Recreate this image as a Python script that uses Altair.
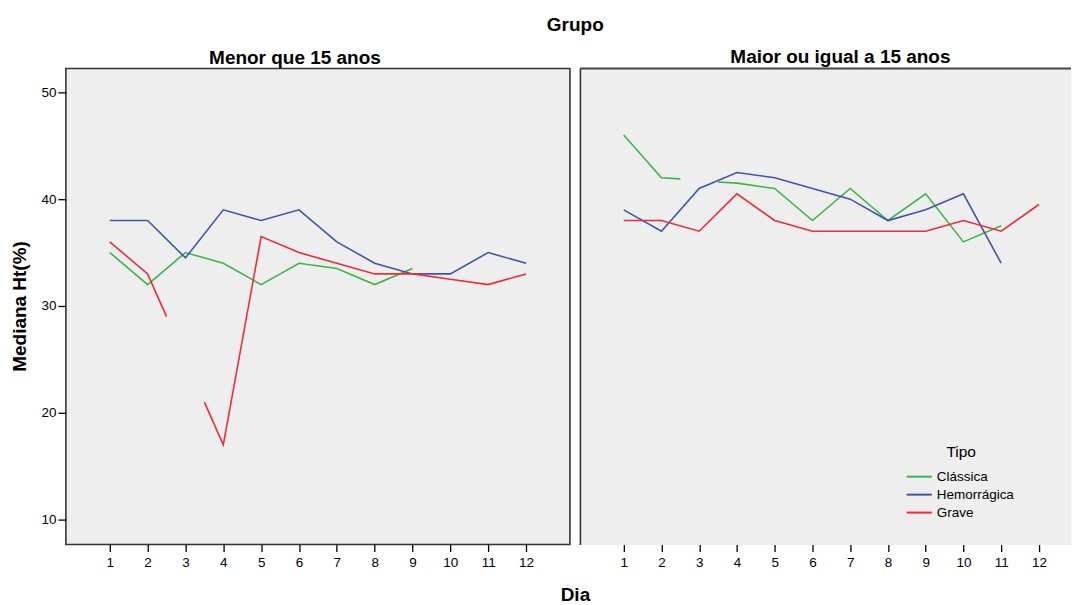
import altair as alt
import pandas as pd

FONTE = "Liberation Sans"

TIPOS = ["Clássica", "Hemorrágica", "Grave"]
CORES = ["#3bb54a", "#3d55ad", "#ee2b36"]

DIAS_TICKS = list(range(1, 13))
HT_TICKS = [10, 20, 30, 40, 50]

# Median Ht(%) per day. A None entry breaks the line into separate stretches.
# --- Menor que 15 anos
menor_classica_dia = [1, 2, 3, 4, 5, 6, 7, 8, 9]
menor_classica_ht = [35, 32, 35, 34, 32, 34, 33.5, 32, 33.5]

menor_hemorragica_dia = [1, 2, 3, 4, 5, 6, 7, 8, 9, 10, 11, 12]
menor_hemorragica_ht = [38, 38, 34.5, 39, 38, 39, 36, 34, 33, 33, 35, 34]

menor_grave_dia = [1, 2, 2.5, None, 3.5, 4, 5, 6, 7, 8, 9, 10, 11, 12]
menor_grave_ht = [36, 33, 29, None, 21, 17, 36.5, 35, 34, 33, 33, 32.5, 32, 33]

# --- Maior ou igual a 15 anos
maior_classica_dia = [1, 2, 2.5, None, 3.5, 4, 5, 6, 7, 8, 9, 10, 11]
maior_classica_ht = [46, 42, 41.9, None, 41.6, 41.5, 41, 38, 41, 38, 40.5, 36, 37.5]

maior_hemorragica_dia = [1, 2, 3, 4, 5, 6, 7, 8, 9, 10, 11]
maior_hemorragica_ht = [39, 37, 41, 42.5, 42, 41, 40, 38, 39, 40.5, 34]

maior_grave_dia = [1, 2, 3, 4, 5, 6, 7, 8, 9, 10, 11, 12]
maior_grave_ht = [38, 38, 37, 40.5, 38, 37, 37, 37, 37, 38, 37, 39.5]


def tabela(series):
    linhas = []
    for tipo, dias, valores in series:
        trecho = 0
        for d, v in zip(dias, valores):
            if d is None or v is None:
                trecho += 1
                continue
            linhas.append({"Dia": d, "Ht": v, "Tipo": tipo, "Trecho": f"{tipo}-{trecho}"})
    return pd.DataFrame(linhas)


df_menor = tabela([
    ("Clássica", menor_classica_dia, menor_classica_ht),
    ("Hemorrágica", menor_hemorragica_dia, menor_hemorragica_ht),
    ("Grave", menor_grave_dia, menor_grave_ht),
])
df_maior = tabela([
    ("Clássica", maior_classica_dia, maior_classica_ht),
    ("Hemorrágica", maior_hemorragica_dia, maior_hemorragica_ht),
    ("Grave", maior_grave_dia, maior_grave_ht),
])

Y_DOMINIO = [7.66, 52.24]
ALTURA = 477
TITULO_PX = 19

cor = alt.Color(
    "Tipo:N",
    scale=alt.Scale(domain=TIPOS, range=CORES),
    sort=TIPOS,
    legend=alt.Legend(
        title="Tipo",
        orient="none",
        legendX=845,
        legendY=377,
        # short horizontal stroke, wider than the 18px row it sits in
        symbolType="M-1.4,0H1.4",
        symbolSize=324,
        symbolStrokeWidth=2,
        symbolFillColor="transparent",
        labelFont=FONTE,
        labelFontSize=13.5,
        labelColor="#000",
        labelOffset=7.5,
        titleFont=FONTE,
        titleFontSize=15.5,
        titleFontWeight="normal",
        titleColor="#000",
        titleAnchor="middle",
        titlePadding=6.5,
        rowPadding=1,
    ),
)

eixo_x = dict(
    values=DIAS_TICKS,
    format="d",
    grid=False,
    domain=False,
    tickColor="#000",
    tickSize=7,
    tickWidth=1.3,
    labelFont=FONTE,
    labelFontSize=13.5,
    labelColor="#000",
    labelPadding=4,
)

# Left panel: carries the y axis and the shared "Dia" title
esquerda = (
    alt.Chart(df_menor)
    .mark_line(strokeWidth=1.6, clip=True)
    .encode(
        x=alt.X(
            "Dia:Q",
            scale=alt.Scale(domain=[-0.16, 13.16], nice=False, zero=False),
            axis=alt.Axis(
                title="Dia",
                titleFont=FONTE,
                titleFontSize=TITULO_PX,
                titleFontWeight="bold",
                titleColor="#000",
                titleX=510,
                titleY=50,
                titleAlign="center",
                titleBaseline="middle",
                **eixo_x,
            ),
        ),
        y=alt.Y(
            "Ht:Q",
            scale=alt.Scale(domain=Y_DOMINIO, nice=False, zero=False),
            axis=alt.Axis(
                values=HT_TICKS,
                title="Mediana Ht(%)",
                titleFont=FONTE,
                titleFontSize=TITULO_PX,
                titleFontWeight="bold",
                titleColor="#000",
                titleX=-46,
                titleY=238,
                titleAlign="center",
                titleBaseline="middle",
                grid=False,
                domain=False,
                tickColor="#000",
                tickSize=8,
                tickWidth=1.3,
                labelFont=FONTE,
                labelFontSize=13.5,
                labelColor="#000",
                labelPadding=2,
                minExtent=0,
            ),
        ),
        color=cor,
        detail="Trecho:N",
    )
    .properties(
        width=505,
        height=ALTURA,
        view=alt.ViewBackground(fill="#eeeeee", stroke="#333333", strokeWidth=1.6),
        title=alt.TitleParams(
            "Menor que 15 anos",
            font=FONTE,
            fontSize=TITULO_PX,
            fontWeight="bold",
            color="#000",
            anchor="middle",
            dx=-23,
            offset=0.5,
        ),
    )
)

linhas_direita = (
    alt.Chart(df_maior)
    .mark_line(strokeWidth=1.6, clip=True)
    .encode(
        x=alt.X(
            "Dia:Q",
            scale=alt.Scale(domain=[-0.16, 12.85], nice=False, zero=False),
            axis=alt.Axis(title=None, **eixo_x),
        ),
        y=alt.Y(
            "Ht:Q",
            scale=alt.Scale(domain=Y_DOMINIO, nice=False, zero=False),
            axis=alt.Axis(
                title=None, labels=False, ticks=False, grid=False,
                domain=True, domainColor="#333333", domainWidth=1.6,
                minExtent=0, maxExtent=0,
            ),
        ),
        color=cor,
        detail="Trecho:N",
    )
)

# top edge of the right frame
borda_topo = (
    alt.Chart(pd.DataFrame({"k": [0]}))
    .mark_rule(color="#444444", strokeWidth=2)
    .encode(y=alt.value(0))
)

direita = alt.layer(linhas_direita, borda_topo).properties(
    width=492,
    height=ALTURA,
    view=alt.ViewBackground(fill="#eeeeee", stroke="transparent"),
    title=alt.TitleParams(
        "Maior ou igual a 15 anos",
        font=FONTE,
        fontSize=TITULO_PX,
        fontWeight="bold",
        color="#000",
        anchor="middle",
        dx=15,
        offset=0.5,
    ),
)

chart = (
    alt.hconcat(esquerda, direita, spacing=10, bounds="flush")
    .resolve_scale(x="independent", y="shared", color="shared")
    .properties(
        title=alt.TitleParams(
            "Grupo",
            font=FONTE,
            fontSize=TITULO_PX,
            fontWeight="bold",
            color="#000",
            anchor="middle",
            dx=34,
            offset=12.5,
        ),
        padding={"left": 10, "top": 15, "right": 0, "bottom": 0},
        background="white",
    )
    .configure_view(stroke=None)
)

chart.save("out.html", embed_options={"renderer": "svg", "actions": False})
